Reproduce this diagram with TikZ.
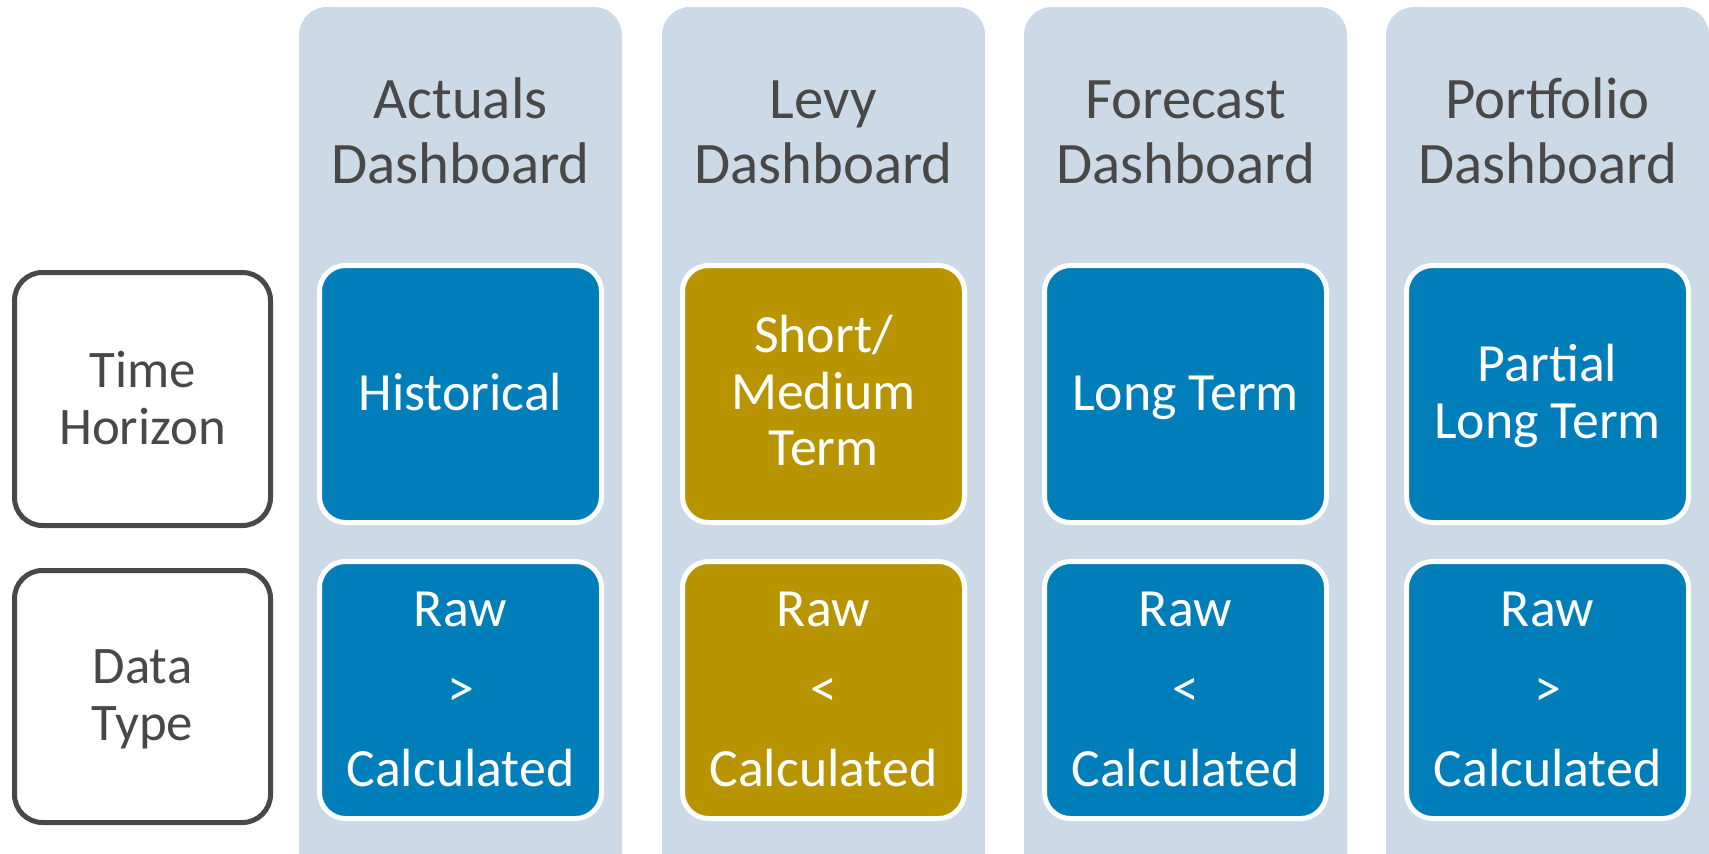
\documentclass[tikz,border=0pt]{standalone}
\usepackage{fontspec}
\setmainfont{Carlito}
\definecolor{panelc}{RGB}{204,217,230}
\definecolor{boxblue}{RGB}{0,126,185}
\definecolor{boxgold}{RGB}{184,149,0}
\definecolor{txtgray}{RGB}{72,72,72}
\begin{document}
\begin{tikzpicture}[x=0.5bp,y=-0.5bp,
  panelbg/.style={fill=panelc, rounded corners=14bp},
  inbox/.style={draw=white, line width=2.5bp, rounded corners=13bp},
  sidebox/.style={draw=txtgray, line width=2.5bp, fill=white, rounded corners=14bp},
  titletext/.style={anchor=base, text=txtgray, font=\fontsize{29.5}{32}\selectfont, inner sep=0pt},
  intext/.style={anchor=base, text=white, font=\fontsize{27}{29}\selectfont, inner sep=0pt},
  sidetext/.style={anchor=base, text=txtgray, font=\fontsize{26.5}{28}\selectfont, inner sep=0pt}]
\clip (0,0) rectangle (1709,854);
\fill[white] (0,0) rectangle (1709,854);

% side labels
\draw[sidebox] (14.5,272.5) rectangle (270.5,525.5);
\draw[sidebox] (14.5,570.5) rectangle (270.5,822.5);
\node[sidetext] (th1) at (142.5,387) {Time};
\node[sidetext] (th2) at (142.5,444) {Horizon};
\node[sidetext] (dt1) at (142.5,683) {Data};
\node[sidetext] (dt2) at (142.5,740) {Type};

% panels
\fill[panelbg] (299,7) rectangle (622,890);
\fill[panelbg] (662,7) rectangle (985,890);
\fill[panelbg] (1024,7) rectangle (1347,890);
\fill[panelbg] (1386,7) rectangle (1709,890);

% titles
\node[titletext] (a1) at (460.5,118.5) {Actuals};
\node[titletext] (a2) at (460.5,183) {Dashboard};
\node[titletext] (l1) at (823.5,118.5) {Levy};
\node[titletext] (l2) at (823.5,183) {Dashboard};
\node[titletext] (f1) at (1185.5,118.5) {Forecast};
\node[titletext] (f2) at (1185.5,183) {Dashboard};
\node[titletext] (p1) at (1547.5,118.5) {Portfolio};
\node[titletext] (p2) at (1547.5,183) {Dashboard};

% inner boxes: time horizon row
\draw[inbox, fill=boxblue] (319.5,265.5) rectangle (601.5,522.5);
\draw[inbox, fill=boxgold] (682.5,265.5) rectangle (964.5,522.5);
\draw[inbox, fill=boxblue] (1044.5,265.5) rectangle (1326.5,522.5);
\draw[inbox, fill=boxblue] (1406.5,265.5) rectangle (1688.5,522.5);
% data type row
\draw[inbox, fill=boxblue] (319.5,561.5) rectangle (601.5,818.5);
\draw[inbox, fill=boxgold] (682.5,561.5) rectangle (964.5,818.5);
\draw[inbox, fill=boxblue] (1044.5,561.5) rectangle (1326.5,818.5);
\draw[inbox, fill=boxblue] (1406.5,561.5) rectangle (1688.5,818.5);

% time horizon texts
\node[intext] (h1) at (460.5,410) {Historical};
\node[intext] (s1) at (823.5,352.5) {Short/};
\node[intext] (s2) at (823.5,409) {Medium};
\node[intext] (s3) at (823.5,465.5) {Term};
\node[intext] (lt) at (1185.5,410) {Long Term};
\node[intext] (pl1) at (1547.5,381.5) {Partial};
\node[intext] (pl2) at (1547.5,438.5) {Long Term};

% data type texts
\node[intext] (r1) at (460.5,626) {Raw};
\node[intext] (c1) at (460.5,706) {>};
\node[intext] (k1) at (460.5,786) {Calculated};
\node[intext] (r2) at (823.5,626) {Raw};
\node[intext] (c2) at (823.5,706) {<};
\node[intext] (k2) at (823.5,786) {Calculated};
\node[intext] (r3) at (1185.5,626) {Raw};
\node[intext] (c3) at (1185.5,706) {<};
\node[intext] (k3) at (1185.5,786) {Calculated};
\node[intext] (r4) at (1547.5,626) {Raw};
\node[intext] (c4) at (1547.5,706) {>};
\node[intext] (k4) at (1547.5,786) {Calculated};
\end{tikzpicture}
\end{document}
